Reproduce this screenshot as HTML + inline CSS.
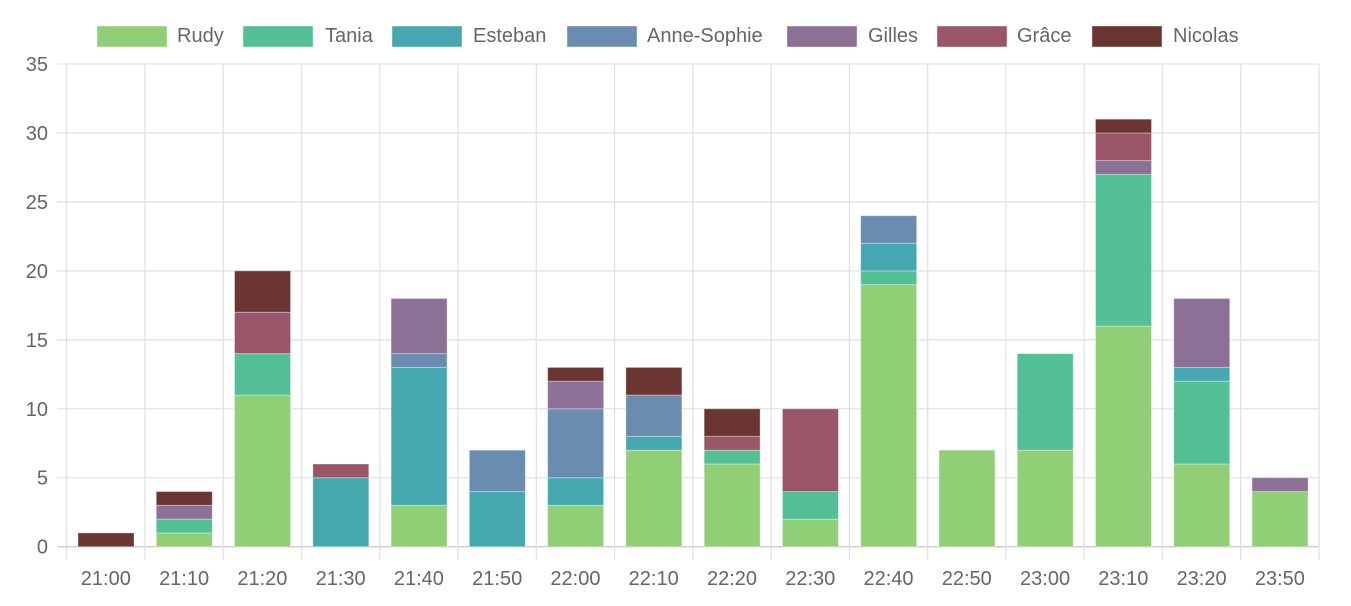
<!DOCTYPE html>
<html><head><meta charset="utf-8"><style>
html,body{margin:0;padding:0;background:#fff;}
svg{display:block;font-family:"Liberation Sans",Arial,sans-serif;}
</style></head><body>
<svg width="1351" height="606" viewBox="0 0 1351 606" xmlns="http://www.w3.org/2000/svg">
<g id="legend" font-size="20" fill="#666"></g>
<g id="grid"></g>
<g id="bars"></g>
<g id="labels" font-size="20" fill="#666"></g>
<script>
(function(){
const NS="http://www.w3.org/2000/svg";
function el(p,t,a,txt){const e=document.createElementNS(NS,t);for(const k in a)e.setAttribute(k,a[k]);if(txt!=null)e.textContent=txt;document.getElementById(p).appendChild(e);}
const cols=["#91cf77","#52bf95","#45a8b0","#6a8caf","#8c7096","#9a5569","#6b3531"];
const names=["Rudy","Tania","Esteban","Anne-Sophie","Gilles","Grâce","Nicolas"];
const bx=[97,243,392,567,787,937,1092];
const tx=[177,325,473,647,868,1017,1173];
for(let i=0;i<7;i++){el("legend","rect",{x:bx[i],y:26,width:70,height:21,fill:cols[i],stroke:"rgba(255,255,255,0.4)"});el("legend","text",{x:tx[i],y:42},names[i]);}
const L=66.7,R=1319,T=64,B=546.7,u=(B-T)/35;
const cats=["21:00","21:10","21:20","21:30","21:40","21:50","22:00","22:10","22:20","22:30","22:40","22:50","23:00","23:10","23:20","23:50"];
const cw=(R-L)/16;
for(let v=0;v<=35;v+=5){const y=B-v*u;el("grid","line",{x1:57,x2:R,y1:y,y2:y,stroke:v==0?"#ccc":"#e2e2e2","stroke-width":1.3});el("labels","text",{x:48,y:y+7,"text-anchor":"end"},String(v));}
for(let i=0;i<=16;i++){const x=L+i*cw;el("grid","line",{x1:x,x2:x,y1:T,y2:560,stroke:"#e2e2e2","stroke-width":1.3});}
const d=[[0,0,0,0,0,0,1],[1,1,0,0,1,0,1],[11,3,0,0,0,3,3],[0,0,5,0,0,1,0],[3,0,10,1,4,0,0],[0,0,4,3,0,0,0],[3,0,2,5,2,0,1],[7,0,1,3,0,0,2],[6,1,0,0,0,1,2],[2,2,0,0,0,6,0],[19,1,2,2,0,0,0],[7,0,0,0,0,0,0],[7,7,0,0,0,0,0],[16,11,0,0,1,2,1],[6,6,1,0,5,0,0],[4,0,0,0,1,0,0]];
for(let i=0;i<16;i++){let acc=0;const x=L+i*cw+11.3;
for(let s=0;s<7;s++){const v=d[i][s];if(!v)continue;const y1=B-(acc+v)*u,y0=B-acc*u;el("bars","rect",{x:x,y:y1,width:56,height:y0-y1,fill:cols[s],stroke:"rgba(255,255,255,0.35)","stroke-width":1});acc+=v;}
el("labels","text",{x:L+(i+0.5)*cw,y:585,"text-anchor":"middle"},cats[i]);}
})();
</script>
</svg>
</body></html>
